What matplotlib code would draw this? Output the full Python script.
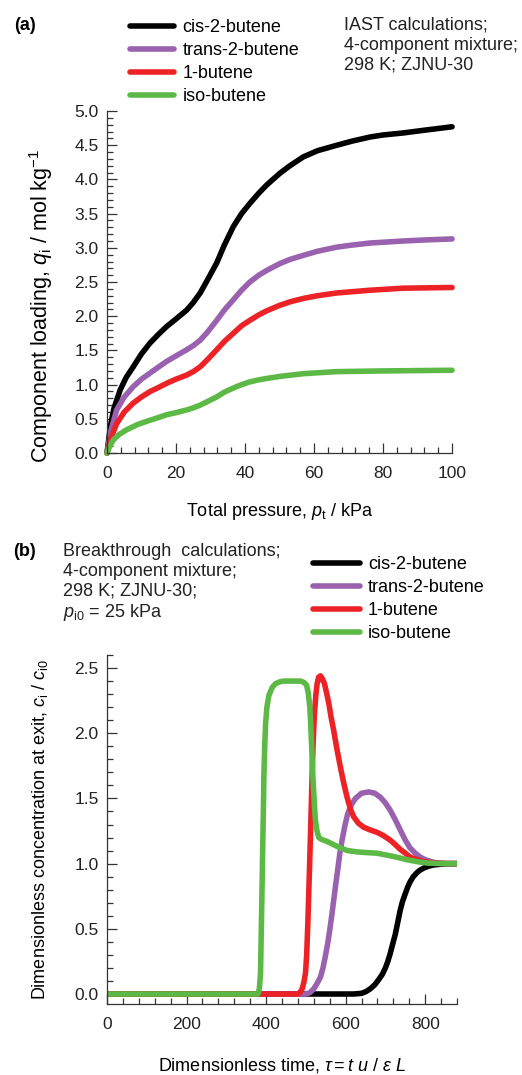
import matplotlib
matplotlib.use('Agg')
import matplotlib.pyplot as plt
from matplotlib.ticker import MultipleLocator

plt.rcParams['font.family'] = ['Liberation Sans', 'DejaVu Sans']
plt.rcParams['mathtext.fontset'] = 'custom'
plt.rcParams['mathtext.rm'] = 'Liberation Sans'
plt.rcParams['mathtext.it'] = 'Liberation Sans:italic'

# (a) IAST component loadings vs total pressure (kPa, mol/kg)
p_cis = [0, 1, 2, 3.8, 5.5, 7.6, 10, 12.5, 15, 17.3, 20, 23.1, 25, 27, 29, 31.8, 34, 36.6, 39, 41.4,
         44, 46.3, 50.1, 53, 56.9, 61, 66.6, 71, 76.2, 80, 85.9, 92, 100]
q_cis = [0, 0.40, 0.65, 0.92, 1.10, 1.26, 1.45, 1.61, 1.74, 1.85, 1.96, 2.09, 2.20, 2.34, 2.52, 2.78,
         3.04, 3.31, 3.50, 3.65, 3.80, 3.92, 4.09, 4.20, 4.33, 4.42, 4.50, 4.56, 4.62, 4.65, 4.68, 4.72, 4.77]

p_trans = [0, 1, 2.8, 5, 7.6, 10, 12.5, 15, 17.3, 20, 23.1, 25, 27, 29, 31.8, 34, 36.6, 39, 41.4, 44,
           46.3, 50.1, 53, 56.9, 61, 66.6, 71, 76.2, 85.9, 92, 100]
q_trans = [0, 0.30, 0.63, 0.82, 0.97, 1.08, 1.17, 1.26, 1.34, 1.42, 1.51, 1.57, 1.65, 1.76, 1.94, 2.09,
           2.24, 2.38, 2.50, 2.60, 2.67, 2.77, 2.83, 2.89, 2.95, 3.01, 3.04, 3.07, 3.10, 3.115, 3.13]

p_1b = [0, 1, 2.8, 5, 7.6, 10, 12.5, 15, 17.3, 20, 23.1, 25, 27, 29, 31.8, 34, 36.6, 39, 41.4, 44,
        46.3, 50.1, 53, 56.9, 61, 66.6, 76.2, 85.9, 100]
q_1b = [0, 0.20, 0.43, 0.60, 0.73, 0.82, 0.90, 0.96, 1.02, 1.08, 1.14, 1.19, 1.26, 1.36, 1.51, 1.63,
        1.75, 1.86, 1.94, 2.02, 2.08, 2.16, 2.21, 2.26, 2.30, 2.34, 2.38, 2.41, 2.42]

p_iso = [0, 0.8, 1.8, 3.5, 5.7, 9, 12.5, 15, 17.3, 20, 23.1, 25, 27, 29, 31.8, 34, 36.6, 39, 41.4, 44,
         46.3, 50.1, 56.9, 66.6, 80, 100]
q_iso = [0, 0.10, 0.19, 0.27, 0.34, 0.42, 0.48, 0.52, 0.56, 0.59, 0.63, 0.66, 0.70, 0.75, 0.82, 0.89,
         0.95, 1.00, 1.04, 1.07, 1.09, 1.12, 1.16, 1.19, 1.20, 1.21]

# (b) breakthrough curves, c_i/c_i0 vs dimensionless time
t_cis = [0, 620, 640, 652, 662, 673, 683, 692, 700, 706, 712, 718, 725, 731, 737, 743, 750, 756, 762,
         770, 779, 787, 796, 808, 821, 850, 880]
c_cis = [0, 0, 0.005, 0.02, 0.04, 0.07, 0.11, 0.15, 0.20, 0.25, 0.31, 0.38, 0.46, 0.55, 0.64, 0.71,
         0.77, 0.82, 0.86, 0.90, 0.93, 0.95, 0.965, 0.98, 0.99, 0.998, 1.0]

t_trans = [0, 499, 510, 520, 528, 536.7, 543, 549, 555, 560, 565, 570, 575, 580, 585, 591, 598, 605,
           614, 624.5, 640, 658, 673, 687, 700, 712, 725, 737, 750, 762, 775, 787.5, 800, 820.8, 850, 880]
c_trans = [0, 0, 0.01, 0.04, 0.08, 0.13, 0.20, 0.29, 0.39, 0.49, 0.60, 0.72, 0.84, 0.95, 1.07, 1.18,
           1.29, 1.38, 1.45, 1.50, 1.54, 1.55, 1.54, 1.51, 1.465, 1.41, 1.335, 1.26, 1.18, 1.12, 1.08,
           1.05, 1.03, 1.01, 1.0, 1.0]

t_1b = [0, 478, 485, 490.7, 495, 499, 502, 504.9, 507.5, 510, 513, 515.8, 518.5, 521.6, 525, 528.3,
        532, 536.7, 541, 546.7, 552, 557.6, 563, 570, 578, 586.8, 595, 603.5, 612, 620, 632, 645, 660,
        679, 695, 712, 725, 737, 750, 762, 780, 796, 830, 880]
c_1b = [0, 0, 0.01, 0.04, 0.09, 0.16, 0.30, 0.54, 0.80, 1.05, 1.38, 1.69, 1.95, 2.15, 2.29, 2.38,
        2.43, 2.44, 2.42, 2.38, 2.31, 2.23, 2.13, 2.02, 1.88, 1.74, 1.62, 1.51, 1.42, 1.36, 1.31, 1.28,
        1.26, 1.24, 1.215, 1.18, 1.145, 1.11, 1.08, 1.05, 1.03, 1.015, 1.003, 1.0]

t_iso = [0, 379.5, 383, 386, 388, 390.4, 392.5, 394.6, 396.5, 398.7, 402, 407, 415, 423.8, 435, 444.7,
         470, 486.5, 495, 501.6, 506, 510, 512, 514, 516, 518, 521, 524, 528, 532.5, 540, 553.4, 570,
         586.8, 605, 628.6, 650, 678.8, 695, 712, 735, 754, 780, 804, 840, 880]
c_iso = [0, 0, 0.04, 0.16, 0.50, 0.92, 1.30, 1.69, 1.90, 2.07, 2.20, 2.29, 2.35, 2.38, 2.395, 2.40,
         2.40, 2.40, 2.39, 2.37, 2.31, 2.20, 2.08, 1.94, 1.79, 1.64, 1.48, 1.33, 1.25, 1.20, 1.185, 1.17,
         1.145, 1.12, 1.10, 1.09, 1.085, 1.08, 1.07, 1.06, 1.045, 1.03, 1.015, 1.005, 1.0, 1.0]

names = ['cis-2-butene', 'trans-2-butene', '1-butene', 'iso-butene']
colors = ['#000000', '#9a62ae', '#ec2227', '#5cb946']

fs = 12.5
axc = '#333333'
lw = 4.0

fig = plt.figure(figsize=(5.22, 10.75), dpi=100)
ax1 = fig.add_axes([0.205, 0.5786, 0.661, 0.3181])
ax2 = fig.add_axes([0.205, 0.0660, 0.6705, 0.3247])


def style(ax):
    for s in ['top', 'right']:
        ax.spines[s].set_visible(False)
    for s in ['left', 'bottom']:
        ax.spines[s].set_color(axc)
        ax.spines[s].set_linewidth(0.9)
    ax.tick_params(which='both', direction='in', colors=axc, labelcolor='#222222',
                   labelsize=fs, width=0.9)
    ax.tick_params(which='major', length=7)
    ax.tick_params(which='minor', length=4)
    ax.tick_params(axis='x', pad=9)
    ax.tick_params(axis='y', pad=6)


# top panel
for p, q, c, n in zip([p_cis, p_trans, p_1b, p_iso], [q_cis, q_trans, q_1b, q_iso], colors, names):
    ax1.plot(p, q, color=c, lw=lw, label=n, solid_capstyle='round', solid_joinstyle='round', clip_on=False)
ax1.set_xlim(0, 100)
ax1.set_ylim(0, 5.0)
ax1.xaxis.set_major_locator(MultipleLocator(20))
ax1.xaxis.set_minor_locator(MultipleLocator(4))
ax1.yaxis.set_major_locator(MultipleLocator(0.5))
ax1.yaxis.set_minor_locator(MultipleLocator(0.1))
ax1.yaxis.set_major_formatter('{x:.1f}')
style(ax1)
ax1.set_xlabel(r'Total pressure, $p_\mathrm{t}$ / kPa', fontsize=fs + 0.5, va='center')
ax1.xaxis.set_label_coords(0.5, -0.17)
ax1.set_ylabel(r'Component loading, $q_\mathrm{i}$ / mol kg$^{-1}$', fontsize=15.5, va='center')
ax1.yaxis.set_label_coords(-0.19, 0.43)
ax1.legend(loc='upper left', bbox_to_anchor=(130 / 522, 1 - 19 / 1075), bbox_transform=fig.transFigure,
           frameon=False, fontsize=fs + 0.5, handlelength=2.45, handletextpad=0.45,
           labelspacing=0.34, borderpad=0, borderaxespad=0)
fig.text(14 / 522, 1 - 25 / 1075, '(a)', fontsize=fs + 0.5, fontweight='bold', ha='left', va='center')
fig.text(344 / 522, 1 - 17 / 1075, 'IAST calculations;\n4-component mixture;\n298 K; ZJNU-30',
         fontsize=fs + 0.5, ha='left', va='top', linespacing=1.22, color='#222222')

# bottom panel
for t, cc, c, n in zip([t_cis, t_trans, t_1b, t_iso], [c_cis, c_trans, c_1b, c_iso], colors, names):
    ax2.plot(t, cc, color=c, lw=lw, label=n, solid_capstyle='round', solid_joinstyle='round')
ax2.set_xlim(0, 880)
ax2.set_ylim(-0.077, 2.6)
ax2.xaxis.set_major_locator(MultipleLocator(200))
ax2.xaxis.set_minor_locator(MultipleLocator(40))
ax2.yaxis.set_major_locator(MultipleLocator(0.5))
ax2.yaxis.set_minor_locator(MultipleLocator(0.1))
ax2.yaxis.set_major_formatter('{x:.1f}')
style(ax2)
ax2.set_xlabel(r'Dimensionless time, $\tau = t\ u\ /\ \varepsilon\ L$', fontsize=fs + 0.5, va='center')
ax2.xaxis.set_label_coords(0.5, -0.175)
ax2.set_ylabel(r'Dimensionless concentration at exit, $c_\mathrm{i}$ / $c_\mathrm{i0}$',
               fontsize=fs + 0.5, va='center')
ax2.yaxis.set_label_coords(-0.191, 0.5)
ax2.legend(loc='upper left', bbox_to_anchor=(313 / 522, 1 - 556 / 1075), bbox_transform=fig.transFigure,
           frameon=False, fontsize=fs + 0.5, handlelength=2.6, handletextpad=0.45,
           labelspacing=0.34, borderpad=0, borderaxespad=0)
fig.text(13 / 522, 1 - 552 / 1075, '(b)', fontsize=fs + 0.5, fontweight='bold', ha='left', va='center')
fig.text(63 / 522, 1 - 543 / 1075,
         'Breakthrough  calculations;\n4-component mixture;\n298 K; ZJNU-30;\n$p_\\mathrm{i0}$ = 25 kPa',
         fontsize=fs + 0.5, ha='left', va='top', linespacing=1.2, color='#222222')

fig.savefig('out.png', dpi=100)
